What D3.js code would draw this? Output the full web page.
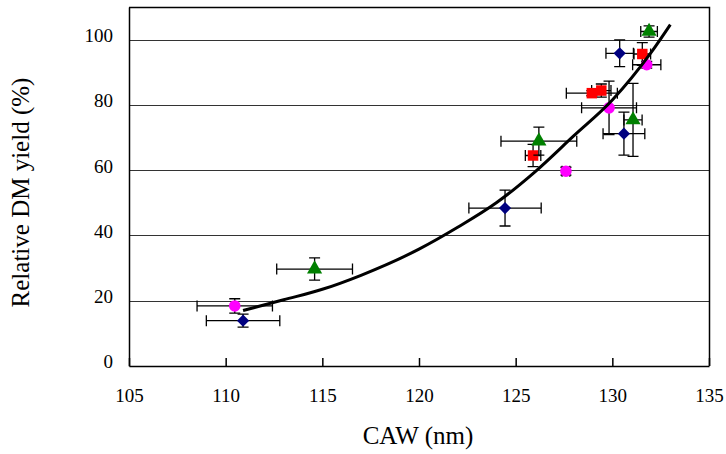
<!DOCTYPE html>
<html>
<head>
<meta charset="utf-8">
<script src="https://cdn.jsdelivr.net/npm/d3@7"></script>
<style>
  body { margin: 0; background: #fff; }
  text { font-family: "Liberation Serif", "Times New Roman", serif; fill: #000; }
</style>
</head>
<body>
<svg id="chart" width="726" height="454"></svg>
<script>
// axis ticks
var xTicks = [105, 110, 115, 120, 125, 130, 135];
var yTicks = [0, 20, 40, 60, 80, 100];

// series: x, y, x error, y error
var diamonds = [
  {x: 110.9, y: 13.9, ex: 1.9, ey: 2.0},
  {x: 124.45, y: 48.4, ex: 1.87, ey: 5.5},
  {x: 130.38, y: 95.8, ex: 0.71, ey: 4.1},
  {x: 130.6, y: 71.2, ex: 1.08, ey: 6.6}
];
var squares = [
  {x: 125.9, y: 64.5, ex: 0.4, ey: 3.4},
  {x: 128.94, y: 83.6, ex: 1.32, ey: 0.8},
  {x: 129.43, y: 84.4, ex: 0.5, ey: 2.0},
  {x: 131.55, y: 95.6, ex: 0.43, ey: 3.5}
];
var triangles = [
  {x: 114.6, y: 29.7, ex: 1.96, ey: 3.4},
  {x: 126.2, y: 68.9, ex: 1.96, ey: 4.3},
  {x: 131.07, y: 75.4, ex: 0.47, ey: 11.2},
  {x: 131.9, y: 102.5, ex: 0.43, ey: 1.7}
];
var circles = [
  {x: 110.47, y: 18.4, ex: 1.95, ey: 2.2},
  {x: 127.6, y: 59.7, ex: 0.2, ey: 1.2},
  {x: 129.83, y: 79.1, ex: 1.42, ey: 8.2},
  {x: 131.78, y: 92.3, ex: 0.73, ey: 1.0}
];

// trend line, points
var trendX = [110.9, 113, 115, 117, 120, 122, 124, 126, 128, 130, 132, 133];
var trendY = [17, 20.3, 23.5, 27.8, 35.8, 42.5, 50, 59.5, 70.5, 81.5, 96, 104.6];

var svg = d3.select("#chart");
var pLeft = 129, pRight = 709, pTop = 7, pBottom = 366;

var x = d3.scaleLinear().domain([105, 135]).range([pLeft, pRight]);
var y = d3.scaleLinear().domain([0, 110]).range([pBottom, pTop]);

// grid lines
svg.append("g")
  .selectAll("line")
  .data(yTicks.filter(function(d){ return d > 0; }))
  .enter()
  .append("line")
    .attr("x1", pLeft).attr("x2", pRight)
    .attr("y1", function(d){ return Math.round(y(d)) + 0.5; })
    .attr("y2", function(d){ return Math.round(y(d)) + 0.5; })
    .attr("stroke", "#333")
    .attr("stroke-width", 1);

// plot frame (top + right)
svg.append("path")
  .attr("d", "M" + pLeft + "," + (pTop + 0.5) + "H" + (pRight + 0.5) + "V" + pBottom)
  .attr("fill", "none")
  .attr("stroke", "#000")
  .attr("stroke-width", 1.5);

// x axis, ticks pointing up into the plot
var xAxis = svg.append("g")
  .attr("transform", "translate(0," + pBottom + ")")
  .call(d3.axisBottom(x).tickValues(xTicks).tickSizeInner(-8).tickSizeOuter(0).tickPadding(0).tickFormat(d3.format("d")));
xAxis.select(".domain").attr("stroke", "#000").attr("stroke-width", 1.5);
xAxis.selectAll(".tick line").attr("stroke", "#000").attr("stroke-width", 1.5);
xAxis.selectAll(".tick text")
  .attr("y", 23)
  .style("font-size", "19px")
  .style("font-family", "'Liberation Serif', serif");

// y axis
var yAxis = svg.append("g")
  .attr("transform", "translate(" + pLeft + ",0)")
  .call(d3.axisLeft(y).tickValues(yTicks).tickSize(0).tickPadding(16).tickFormat(d3.format("d")));
yAxis.select(".domain").attr("stroke", "#000").attr("stroke-width", 1.5);
yAxis.selectAll(".tick text")
  .attr("dy", "0.1em")
  .style("font-size", "19px")
  .style("font-family", "'Liberation Serif', serif");

// axis titles
svg.append("text")
  .attr("x", (pLeft + pRight) / 2 - 1)
  .attr("y", 444)
  .attr("text-anchor", "middle")
  .style("font-size", "25px")
  .text("CAW (nm)");

svg.append("text")
  .attr("transform", "translate(29," + ((pTop + pBottom) / 2 + 6) + ") rotate(-90)")
  .attr("text-anchor", "middle")
  .style("font-size", "25px")
  .text("Relative DM yield (%)");

// error bars
var cap = 5.5;
function errorBars(data) {
  var g = svg.append("g").attr("stroke", "#000").attr("stroke-width", 1.3).attr("fill", "none");
  data.forEach(function(d) {
    var x0 = x(d.x - d.ex), x1 = x(d.x + d.ex), y0 = y(d.y - d.ey), y1 = y(d.y + d.ey);
    var cx = x(d.x), cy = y(d.y);
    g.append("path").attr("d",
      "M" + x0 + "," + cy + "H" + x1 +
      "M" + x0 + "," + (cy - cap) + "V" + (cy + cap) +
      "M" + x1 + "," + (cy - cap) + "V" + (cy + cap) +
      "M" + cx + "," + y0 + "V" + y1 +
      "M" + (cx - cap) + "," + y0 + "H" + (cx + cap) +
      "M" + (cx - cap) + "," + y1 + "H" + (cx + cap));
  });
}

function markers(data, symbol, size, color) {
  svg.append("g")
    .selectAll("path")
    .data(data)
    .enter()
    .append("path")
      .attr("transform", function(d){ return "translate(" + x(d.x) + "," + y(d.y) + ")"; })
      .attr("d", d3.symbol().type(symbol).size(size))
      .attr("fill", color);
}

errorBars(diamonds);
markers(diamonds, d3.symbolDiamond2, 95, "#000080");
errorBars(squares);
markers(squares, d3.symbolSquare, 110, "#ff0000");
errorBars(triangles);
markers(triangles, d3.symbolTriangle, 100, "#008000");
errorBars(circles);
markers(circles, d3.symbolCircle, 105, "#ff00ff");

// trend line on top
var trend = trendX.map(function(v, i){ return [v, trendY[i]]; });
svg.append("path")
  .datum(trend)
  .attr("d", d3.line()
    .x(function(d){ return x(d[0]); })
    .y(function(d){ return y(d[1]); })
    .curve(d3.curveMonotoneX))
  .attr("fill", "none")
  .attr("stroke", "#000")
  .attr("stroke-width", 3);
</script>
</body>
</html>
